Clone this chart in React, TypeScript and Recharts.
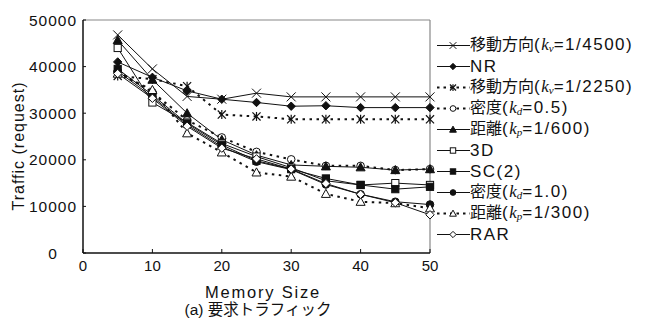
import React from 'react';
import { LineChart, Line, XAxis, YAxis, ReferenceLine, Legend, Label } from 'recharts';

// memory sizes on the x axis
const memorySizes = [5, 10, 15, 20, 25, 30, 35, 40, 45, 50];

// traffic (request) per series
const moveDir4500 = [46800, 39500, 33600, 33000, 34300, 33500, 33500, 33500, 33500, 33500];
const nr = [41000, 37700, 34800, 33000, 32300, 31500, 31600, 31200, 31200, 31200];
const moveDir2250 = [38000, 37300, 35800, 29700, 29300, 28700, 28700, 28700, 28700, 28700];
const density05 = [39000, 34500, 28500, 24800, 21700, 20100, 18700, 18700, 17800, 18000];
const dist600 = [45700, 37200, 30000, 24300, 21000, 18900, 18600, 18400, 17800, 18000];
const threeD = [44000, 32300, 28000, 23500, 20700, 18300, 15500, 14600, 15000, 14600];
const sc2 = [39500, 33900, 27800, 23200, 19800, 18000, 16000, 14600, 13700, 14200];
const density10 = [39000, 33500, 27500, 22800, 19600, 17900, 14700, 12600, 11000, 10400];
const dist300 = [38500, 35000, 25700, 21600, 17300, 16400, 12700, 11000, 10700, 9600];
const rar = [38500, 33200, 27200, 22500, 20200, 18000, 14900, 12600, 10800, 8200];

const xTicks = [0, 10, 20, 30, 40, 50];
const yTicks = [0, 10000, 20000, 30000, 40000, 50000];

type Shape =
  | 'cross'
  | 'diamondFilled'
  | 'asterisk'
  | 'circleOpen'
  | 'triangleFilled'
  | 'squareOpen'
  | 'squareFilled'
  | 'circleFilled'
  | 'triangleOpen'
  | 'diamondOpen';

interface SeriesDef {
  key: string;
  pre: string;
  sub?: string;
  post?: string;
  shape: Shape;
  dotted: boolean;
  values: number[];
}

const series: SeriesDef[] = [
  { key: 'mv4500', pre: '移動方向(', sub: 'v', post: '=1/4500)', shape: 'cross', dotted: false, values: moveDir4500 },
  { key: 'nr', pre: 'NR', shape: 'diamondFilled', dotted: false, values: nr },
  { key: 'mv2250', pre: '移動方向(', sub: 'v', post: '=1/2250)', shape: 'asterisk', dotted: true, values: moveDir2250 },
  { key: 'kd05', pre: '密度(', sub: 'd', post: '=0.5)', shape: 'circleOpen', dotted: true, values: density05 },
  { key: 'kp600', pre: '距離(', sub: 'p', post: '=1/600)', shape: 'triangleFilled', dotted: false, values: dist600 },
  { key: 'd3', pre: '3D', shape: 'squareOpen', dotted: false, values: threeD },
  { key: 'sc2', pre: 'SC(2)', shape: 'squareFilled', dotted: false, values: sc2 },
  { key: 'kd10', pre: '密度(', sub: 'd', post: '=1.0)', shape: 'circleFilled', dotted: false, values: density10 },
  { key: 'kp300', pre: '距離(', sub: 'p', post: '=1/300)', shape: 'triangleOpen', dotted: true, values: dist300 },
  { key: 'rar', pre: 'RAR', shape: 'diamondOpen', dotted: false, values: rar },
];

const data = memorySizes.map((size, i) => {
  const row: Record<string, number> = { size };
  series.forEach((s) => {
    row[s.key] = s.values[i];
  });
  return row;
});

const INK = '#111';
const FONT = '"Liberation Sans", "Noto Sans CJK JP", sans-serif';

function marker(shape: Shape, cx: number, cy: number, k = 1, key?: string | number) {
  const s = 4.5 * k;
  switch (shape) {
    case 'cross':
      return (
        <g key={key}>
          <line x1={cx - s} y1={cy - s} x2={cx + s} y2={cy + s} stroke={INK} strokeWidth={1} />
          <line x1={cx - s} y1={cy + s} x2={cx + s} y2={cy - s} stroke={INK} strokeWidth={1} />
        </g>
      );
    case 'asterisk':
      return (
        <g key={key}>
          <line x1={cx - s * 0.9} y1={cy - s * 0.9} x2={cx + s * 0.9} y2={cy + s * 0.9} stroke={INK} strokeWidth={1.2} />
          <line x1={cx - s * 0.9} y1={cy + s * 0.9} x2={cx + s * 0.9} y2={cy - s * 0.9} stroke={INK} strokeWidth={1.2} />
          <line x1={cx} y1={cy - s} x2={cx} y2={cy + s} stroke={INK} strokeWidth={1.2} />
        </g>
      );
    case 'diamondFilled':
    case 'diamondOpen': {
      const d = 4.2 * k;
      return (
        <polygon
          key={key}
          points={`${cx},${cy - d} ${cx + d},${cy} ${cx},${cy + d} ${cx - d},${cy}`}
          fill={shape === 'diamondFilled' ? INK : '#fff'}
          stroke={INK}
          strokeWidth={1}
        />
      );
    }
    case 'circleOpen':
    case 'circleFilled':
      return (
        <circle key={key} cx={cx} cy={cy} r={3.8 * k} fill={shape === 'circleFilled' ? INK : '#fff'} stroke={INK} strokeWidth={1} />
      );
    case 'triangleFilled':
    case 'triangleOpen': {
      const t = 4.5 * k;
      return (
        <polygon
          key={key}
          points={`${cx},${cy - t} ${cx + t},${cy + t * 0.8} ${cx - t},${cy + t * 0.8}`}
          fill={shape === 'triangleFilled' ? INK : '#fff'}
          stroke={INK}
          strokeWidth={1}
        />
      );
    }
    case 'squareOpen':
    case 'squareFilled': {
      const q = 3.6 * k;
      return (
        <rect key={key} x={cx - q} y={cy - q} width={q * 2} height={q * 2} fill={shape === 'squareFilled' ? INK : '#fff'} stroke={INK} strokeWidth={1} />
      );
    }
  }
  return null;
}

// latin text in the legend is set wider than the kanji
function mixed(text: string) {
  return text
    .split(/([\u3000-\u9fff]+)/)
    .filter((t) => t.length > 0)
    .map((t, i) =>
      /[\u3000-\u9fff]/.test(t) ? (
        <span key={i}>{t}</span>
      ) : (
        <span key={i} style={{ fontSize: 17, letterSpacing: 1.5 }}>
          {t}
        </span>
      ),
    );
}

function LegendBox() {
  return (
    <div style={{ fontFamily: FONT, fontSize: 16, color: INK }}>
      {series.map((s) => (
        <div key={s.key} style={{ height: 21, display: 'flex', alignItems: 'center', whiteSpace: 'nowrap' }}>
          <svg width={36} height={21} style={{ flex: 'none' }}>
            <line
              x1={3}
              y1={10.5}
              x2={36}
              y2={10.5}
              stroke={INK}
              strokeWidth={s.dotted ? 2 : 1}
              strokeDasharray={s.dotted ? '2.5 4' : undefined}
            />
            {marker(s.shape, 19, 10.5, 0.75)}
          </svg>
          <span style={{ lineHeight: '21px' }}>
            {mixed(s.pre)}
            {s.sub && (
              <>
                <span style={{ fontFamily: '"Liberation Serif", serif', fontStyle: 'italic', fontSize: 17 }}>k</span>
                <span
                  style={{
                    fontFamily: '"Liberation Serif", serif',
                    fontStyle: 'italic',
                    fontSize: 11,
                    position: 'relative',
                    top: 2,
                  }}
                >
                  {s.sub}
                </span>
                {mixed(s.post || '')}
              </>
            )}
          </span>
        </div>
      ))}
    </div>
  );
}

function YTick(props: any) {
  return (
    <text x={props.x} y={props.y + 5.5} textAnchor="middle" fontFamily={FONT} fontSize={15.5} letterSpacing={1} fill={INK}>
      {props.payload.value}
    </text>
  );
}

function XTick(props: any) {
  return (
    <text x={props.x} y={props.y + 13.5} textAnchor="middle" fontFamily={FONT} fontSize={15} fill={INK}>
      {props.payload.value}
    </text>
  );
}

export default function App() {
  return (
    <div style={{ position: 'absolute', left: 0, top: 0, width: 650, height: 322, background: '#fff' }}>
      <LineChart width={650} height={322} data={data} margin={{ top: 20, right: 220, bottom: 0, left: 0 }}>
        <XAxis
          dataKey="size"
          type="number"
          domain={[0, 50]}
          ticks={xTicks}
          height={69}
          tickSize={-4}
          tickMargin={8}
          axisLine={{ stroke: INK, strokeWidth: 1.5 }}
          tickLine={{ stroke: INK }}
          tick={<XTick />}
        >
          <Label
            content={() => (
              <g fontFamily={FONT} fill={INK}>
                <text x={263} y={297.5} textAnchor="middle" fontSize={16.5} letterSpacing={1.8}>
                  Memory Size
                </text>
                <text x={258} y={315} textAnchor="middle" fontSize={15.5}>
                  (a) 要求トラフィック
                </text>
              </g>
            )}
          />
        </XAxis>
        <YAxis
          type="number"
          domain={[0, 50000]}
          ticks={yTicks}
          width={83}
          tickSize={-3}
          tickMargin={33}
          axisLine={{ stroke: INK, strokeWidth: 1.5 }}
          tickLine={{ stroke: INK }}
          tick={<YTick />}
        >
          <Label
            content={() => (
              <text
                x={18}
                y={146}
                transform="rotate(-90 18 146)"
                textAnchor="middle"
                dominantBaseline="central"
                fontFamily={FONT}
                fontSize={16}
                letterSpacing={1}
                fill={INK}
              >
                Traffic (request)
              </text>
            )}
          />
        </YAxis>
        <ReferenceLine y={50000} stroke="#888" strokeWidth={1.2} />
        <ReferenceLine x={50} stroke="#888" strokeWidth={1.2} />
        {series.map((s) => (
          <Line
            key={s.key}
            dataKey={s.key}
            type="linear"
            stroke={INK}
            strokeWidth={s.dotted ? 2 : 1}
            strokeDasharray={s.dotted ? '2.5 4.5' : undefined}
            isAnimationActive={false}
            dot={(p: any) => marker(s.shape, p.cx, p.cy, 1, `${s.key}-${p.index}`)}
            activeDot={false}
          />
        ))}
        <Legend
          layout="vertical"
          align="center"
          verticalAlign="middle"
          wrapperStyle={{ left: 434, top: 35, width: 216 }}
          content={() => <LegendBox />}
        />
      </LineChart>
    </div>
  );
}
